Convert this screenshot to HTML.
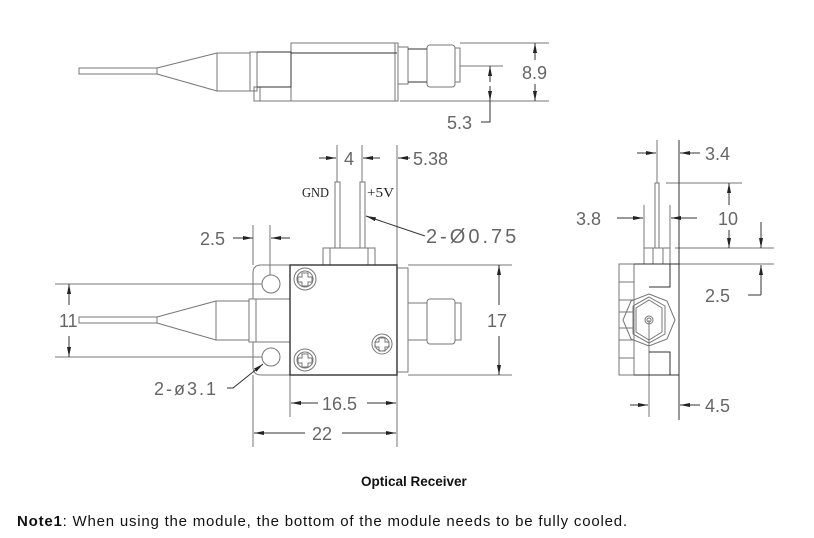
<!DOCTYPE html>
<html><head><meta charset="utf-8"><style>
html,body{margin:0;padding:0;background:#fff;}
svg{display:block;}
.l{stroke:#333;stroke-width:1;fill:none;}
.t{stroke:#777;stroke-width:1;fill:none;}
.d{font-family:"Liberation Sans",sans-serif;font-size:18px;fill:#666;font-weight:normal;}
</style></head><body>
<svg width="814" height="538" viewBox="0 0 814 538" xmlns="http://www.w3.org/2000/svg">
<defs>
<marker id="a" markerWidth="10" markerHeight="6" refX="10" refY="3" orient="auto" markerUnits="userSpaceOnUse"><path d="M0,1 L10,3 L0,5 Z" fill="#222"/></marker>
</defs>

<g class="t">
<rect x="79" y="68" width="78" height="6"/>
<path d="M157,68 L217,53 M157,74 L217,91"/>
<rect x="217" y="53" width="33" height="38"/>
<rect x="250" y="52" width="7" height="39"/>
<rect x="291" y="43" width="107" height="58"/>
<line x1="395" y1="43" x2="395" y2="101"/>
<rect x="254" y="87" width="6" height="14"/>
<line x1="260" y1="101" x2="291" y2="101"/>
<rect x="398" y="47" width="10" height="37"/>
<rect x="427" y="45" width="28" height="42" rx="3"/>
<rect x="455" y="48" width="5" height="34"/>
<line x1="460" y1="66" x2="503" y2="66"/>
<line x1="460" y1="43" x2="549" y2="43"/>
<line x1="400" y1="101" x2="549" y2="101"/>
</g>
<g class="l">
<path d="M257,52 L291,52 L291,87 L257,87"/>
<line x1="291" y1="53" x2="397" y2="53"/>
<line x1="408" y1="49" x2="427" y2="49"/><line x1="408" y1="82" x2="427" y2="82"/>
<line x1="535" y1="60" x2="535" y2="43" marker-end="url(#a)"/>
<line x1="535" y1="84" x2="535" y2="101" marker-end="url(#a)"/>
<line x1="490" y1="82" x2="490" y2="66" marker-end="url(#a)"/>
<line x1="490" y1="86" x2="490" y2="101" marker-end="url(#a)"/>
<path d="M490,101 L490,122 L481,122"/>
</g>
<rect x="522" y="61" width="28" height="20" fill="#fff"/>
<text class="d" x="522" y="79">8.9</text>
<text class="d" x="447" y="129">5.3</text>

<g class="t">
<rect x="79" y="317" width="78" height="6"/>
<path d="M157,317 L216,301 M157,323 L216,340"/>
<rect x="216" y="301" width="33" height="39"/>
<rect x="249" y="299" width="7" height="43"/>
<path d="M290,265 L261,265 Q253,265 253,273 L253,299 M253,342 L253,367 Q253,375 261,375 L290,375"/>
<line x1="256" y1="299" x2="290" y2="299"/><line x1="256" y1="342" x2="290" y2="342"/>
<circle cx="271" cy="284" r="9"/><circle cx="271" cy="357" r="9"/>
<rect x="323" y="248" width="52" height="17"/>
<line x1="330" y1="248" x2="330" y2="265"/><line x1="368" y1="248" x2="368" y2="265"/>
<rect x="335" y="182" width="5" height="66"/>
<rect x="360" y="182" width="5" height="66"/>
<rect x="397" y="268" width="11" height="104"/>
<rect x="408" y="303" width="19" height="37"/>
<rect x="427" y="299" width="28" height="45" rx="3"/>
<rect x="455" y="303" width="6" height="37"/>
<line x1="337" y1="145" x2="337" y2="182"/><line x1="362" y1="145" x2="362" y2="182"/>
<line x1="397" y1="145" x2="397" y2="265"/>
<line x1="253" y1="225" x2="253" y2="265"/><line x1="270" y1="225" x2="270" y2="275"/>
<line x1="55" y1="284" x2="262" y2="284"/><line x1="55" y1="357" x2="262" y2="357"/>
<line x1="408" y1="265" x2="512" y2="265"/><line x1="408" y1="375" x2="512" y2="375"/>
<line x1="290" y1="375" x2="290" y2="417"/>
<line x1="397" y1="375" x2="397" y2="447"/>
<line x1="253" y1="375" x2="253" y2="447"/>
<circle cx="305" cy="279" r="11"/><circle cx="305" cy="279" r="8"/>
<circle cx="305" cy="360" r="11"/><circle cx="305" cy="360" r="8"/>
<circle cx="382" cy="344" r="10"/><circle cx="382" cy="344" r="7"/>
<path d="M302,273h6v4h4v5h-4v4h-6v-4h-4v-5h4z"/>
<path d="M302,354h6v4h4v5h-4v4h-6v-4h-4v-5h4z"/>
<path d="M379,338h6v4h4v5h-4v4h-6v-4h-4v-5h4z"/>
</g>
<rect x="290" y="265" width="107" height="110" class="l" style="stroke-width:1.4"/>
<g class="l">
<line x1="319" y1="158" x2="336" y2="158" marker-end="url(#a)"/>
<line x1="380" y1="158" x2="363" y2="158" marker-end="url(#a)"/>
<line x1="410" y1="158" x2="398" y2="158" marker-end="url(#a)"/>
<path d="M425,236 L416,233 L366,216" marker-end="url(#a)"/>
<line x1="233" y1="238" x2="253" y2="238" marker-end="url(#a)"/>
<line x1="290" y1="238" x2="271" y2="238" marker-end="url(#a)"/>
<line x1="69" y1="305" x2="69" y2="284" marker-end="url(#a)"/>
<line x1="69" y1="336" x2="69" y2="357" marker-end="url(#a)"/>
<path d="M227,388 L233,388 L263,364" marker-end="url(#a)"/>
<line x1="499" y1="305" x2="499" y2="265" marker-end="url(#a)"/>
<line x1="499" y1="336" x2="499" y2="375" marker-end="url(#a)"/>
<line x1="318" y1="403" x2="291" y2="403" marker-end="url(#a)"/>
<line x1="367" y1="403" x2="396" y2="403" marker-end="url(#a)"/>
<line x1="305" y1="433" x2="254" y2="433" marker-end="url(#a)"/>
<line x1="342" y1="433" x2="396" y2="433" marker-end="url(#a)"/>
</g>
<text class="d" x="344" y="165">4</text>
<text class="d" x="413" y="165">5.38</text>
<text x="302" y="197" style="font-family:'Liberation Serif',serif;font-size:14px;fill:#222" textLength="27" lengthAdjust="spacingAndGlyphs">GND</text>
<text x="367" y="197" style="font-family:'Liberation Serif',serif;font-size:14px;fill:#222" textLength="27" lengthAdjust="spacingAndGlyphs">+5V</text>
<text class="d" x="426" y="243" style="font-size:20px;letter-spacing:3px">2-Ø0.75</text>
<text class="d" x="154" y="395" style="letter-spacing:2px">2-ø3.1</text>
<text class="d" x="200" y="245">2.5</text>
<text class="d" x="59" y="327">11</text>
<text class="d" x="487" y="327">17</text>
<text class="d" x="322" y="410">16.5</text>
<text class="d" x="312" y="440">22</text>

<g class="t">
<rect x="619" y="264" width="15" height="111"/>
<path d="M619,282h15M619,300h15M619,312h15M619,328h15M619,340h15M619,358h15"/>
<rect x="644" y="248" width="26" height="16"/>
<line x1="653" y1="248" x2="653" y2="264"/><line x1="663" y1="248" x2="663" y2="264"/>
<rect x="655" y="183" width="4" height="65"/>
<line x1="657" y1="140" x2="657" y2="183"/>
<line x1="644" y1="205" x2="644" y2="248"/><line x1="670" y1="205" x2="670" y2="248"/>
<line x1="666" y1="183" x2="742" y2="183"/>
<line x1="675" y1="248" x2="774" y2="248"/><line x1="679" y1="264" x2="774" y2="264"/>
<polygon points="649,294 667,301 675,320 667,339 649,346 631,339 623,320 631,301"/>
<polygon points="649,297 665,306 665,334 649,343 633,334 633,306"/>
<polygon points="649,300 662,308 662,332 649,340 636,332 636,308"/>
<circle cx="649" cy="320" r="4"/><circle cx="649" cy="320" r="2"/>
<line x1="649" y1="320" x2="649" y2="417"/>
</g>
<g class="l">
<path d="M634,264 L679,264 M634,375 L679,375 M679,140 L679,420"/>
<path d="M670,264 L670,287 L649,287 M649,352 L670,352 L670,375"/>
<line x1="637" y1="153" x2="656" y2="153" marker-end="url(#a)"/>
<line x1="700" y1="153" x2="680" y2="153" marker-end="url(#a)"/>
<line x1="617" y1="218" x2="643" y2="218" marker-end="url(#a)"/>
<line x1="697" y1="218" x2="671" y2="218" marker-end="url(#a)"/>
<line x1="729" y1="205" x2="729" y2="183" marker-end="url(#a)"/>
<line x1="729" y1="230" x2="729" y2="248" marker-end="url(#a)"/>
<line x1="761" y1="222" x2="761" y2="248" marker-end="url(#a)"/>
<path d="M761,295 L761,265" marker-end="url(#a)"/>
<line x1="761" y1="295" x2="748" y2="295"/>
<line x1="630" y1="405" x2="648" y2="405" marker-end="url(#a)"/>
<line x1="700" y1="405" x2="680" y2="405" marker-end="url(#a)"/>
</g>
<text class="d" x="705" y="160">3.4</text>
<text class="d" x="576" y="225">3.8</text>
<text class="d" x="718" y="225">10</text>
<text class="d" x="705" y="302">2.5</text>
<text class="d" x="705" y="412">4.5</text>

<text x="361" y="486" style="font-family:'Liberation Sans',sans-serif;font-size:13.5px;font-weight:bold;fill:#111">Optical Receiver</text>
<text x="17" y="526" style="font-family:'Liberation Sans',sans-serif;font-size:15px;fill:#111" textLength="610"><tspan font-weight="bold">Note1</tspan>: When using the module, the bottom of the module needs to be fully cooled.</text>
</svg>
</body></html>
